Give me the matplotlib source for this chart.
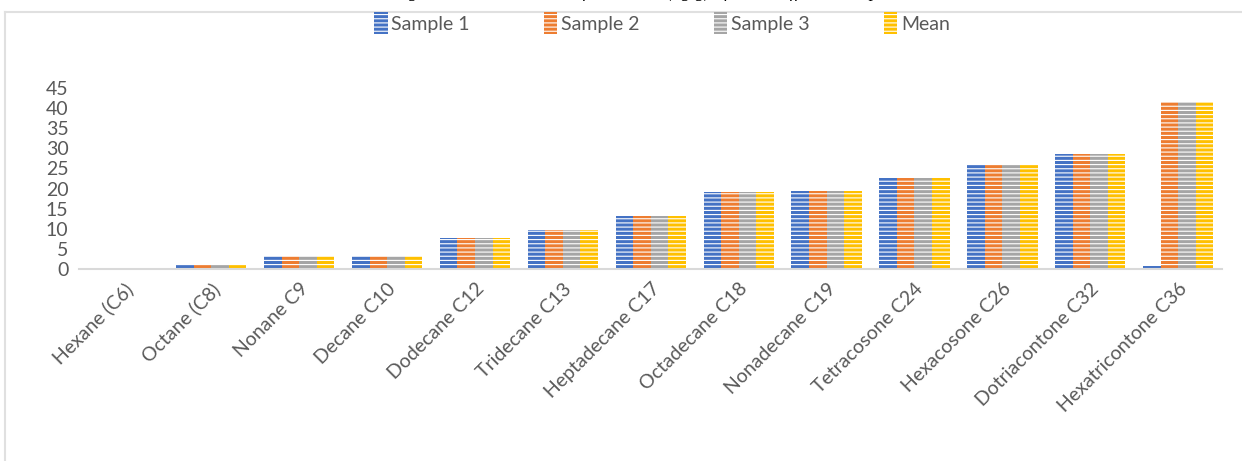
import matplotlib.pyplot as plt
import numpy as np
from matplotlib.lines import Line2D

plt.rcParams['font.family'] = ['Lato', 'DejaVu Sans']
plt.rcParams['hatch.color'] = 'white'
plt.rcParams['hatch.linewidth'] = 0.8

compounds = ['Hexane (C6)', 'Octane (C8)', 'Nonane C9', 'Decane C10', 'Dodecane C12',
             'Tridecane C13', 'Heptadecane C17', 'Octadecane C18', 'Nonadecane C19',
             'Tetracosone C24', 'Hexacosone C26', 'Dotriacontone C32', 'Hexatricontone C36']
sample1 = [0.2, 0.9, 3.3, 3.3, 7.8, 9.8, 13.2, 19.2, 19.4, 22.6, 25.9, 28.6, 0.8]
sample2 = [0.2, 0.9, 3.3, 3.3, 7.8, 9.8, 13.2, 19.2, 19.4, 22.6, 25.9, 28.6, 41.6]
sample3 = [0.2, 0.9, 3.3, 3.3, 7.8, 9.8, 13.2, 19.2, 19.4, 22.6, 25.9, 28.6, 41.6]
mean = [0.2, 0.9, 3.3, 3.3, 7.8, 9.8, 13.2, 19.2, 19.4, 22.6, 25.9, 28.6, 41.6]

series = [('Sample 1', sample1, '#4472C4'),
          ('Sample 2', sample2, '#ED7D31'),
          ('Sample 3', sample3, '#A5A5A5'),
          ('Mean', mean, '#FFC000')]

fig = plt.figure(figsize=(12.42, 4.61), dpi=100)
ax = fig.add_axes([0.064, 0.4165, 0.92, 0.3925])

x = np.arange(len(compounds))
w = 0.2
for i, (name, vals, col) in enumerate(series):
    ax.bar(x + (i - 1.5) * w, vals, w, facecolor=col, edgecolor='white', linewidth=0,
           hatch='----', label=name)

ax.set_xlim(-0.5, len(compounds) - 0.5)
ax.set_ylim(0, 45)
ax.set_yticks(np.arange(0, 46, 5))
ax.set_xticks(x)
ax.set_xticklabels(compounds, rotation=45, ha='right', rotation_mode='anchor')
ax.tick_params(axis='both', length=0, colors='#595959', labelsize=14)
ax.tick_params(axis='x', pad=8)
ax.tick_params(axis='y', pad=8, labelsize=14)
for s in ['left', 'top', 'right']:
    ax.spines[s].set_visible(False)
ax.spines['bottom'].set_color('#D9D9D9')
ax.spines['bottom'].set_linewidth(1.5)

leg = fig.legend(loc='center', bbox_to_anchor=(0.533, 0.95), ncol=4, frameon=False,
                 fontsize=14, handlelength=0.7, handleheight=1.3, columnspacing=3.8,
                 handletextpad=0.2, labelcolor='#595959')

# outer chart frame (partially visible)
fig.add_artist(Line2D([0.004, 1.0], [0.974, 0.974], color='#E0E0E0', lw=1.5))
fig.add_artist(Line2D([0.004, 0.004], [0.0, 0.974], color='#E0E0E0', lw=1.5))

# caption above chart, cut off at the top edge
fig.text(0.52, 1.018, 'Figure 3: Concentration of n-alkanes (ng/g) of oil in different samples',
         ha='center', va='center', fontsize=13, style='italic',
         family='Liberation Serif', color='black')

fig.savefig('out.png', dpi=100)
